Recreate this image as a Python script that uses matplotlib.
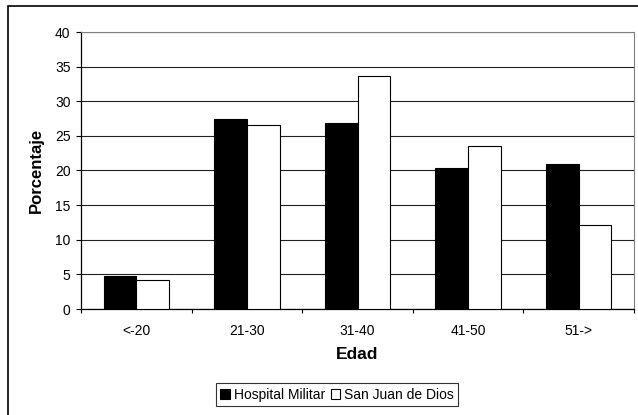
import numpy as np
import matplotlib
matplotlib.use("Agg")
import matplotlib.pyplot as plt
from matplotlib.patches import Rectangle

plt.rcParams['font.family'] = ['Liberation Sans', 'DejaVu Sans']

# datos
edades = ["<-20", "21-30", "31-40", "41-50", "51->"]
hospital_militar = [4.8, 27.5, 26.9, 20.3, 21.0]
san_juan_de_dios = [4.2, 26.6, 33.6, 23.5, 12.2]

fig = plt.figure(figsize=(6.38, 4.15), dpi=100)
ax = fig.add_axes([81/638, 1-309/415, 553/638, 277/415])

x = np.arange(len(edades))
w = 0.295
ax.bar(x - w/2, hospital_militar, w, color="black", edgecolor="black", lw=0.8,
       label="Hospital Militar", zorder=3)
ax.bar(x + w/2, san_juan_de_dios, w, color="white", edgecolor="black", lw=0.8,
       label="San Juan de Dios", zorder=3)

ax.set_xlim(-0.5, len(edades) - 0.5)
ax.set_ylim(0, 40)
ax.set_yticks(np.arange(0, 41, 5))
ax.yaxis.grid(True, color="#222222", lw=0.8, zorder=0)
ax.tick_params(axis="y", length=3.6, width=0.8, labelsize=10, pad=4)

ax.set_xticks(x, edades)
ax.set_xticks(np.arange(-0.5, len(edades)), minor=True)
ax.tick_params(axis="x", which="major", length=0, labelsize=10, pad=11)
ax.tick_params(axis="x", which="minor", length=3.2, width=0.8)

for s in ["top", "right"]:
    ax.spines[s].set_color("#808080")
for s in ["left", "bottom"]:
    ax.spines[s].set_color("black")
    ax.spines[s].set_linewidth(0.9)

ax.set_ylabel("Porcentaje", fontsize=12, fontweight="bold")
ax.yaxis.set_label_coords(-0.067, 0.5)
ax.set_xlabel("Edad", fontsize=12.5, fontweight="bold")
ax.xaxis.set_label_coords(0.5, -0.138)

leg = fig.legend(loc="center", bbox_to_anchor=(337/638, 1-394.5/415), ncol=2,
                 fontsize=10, frameon=True, fancybox=False, edgecolor="black",
                 handlelength=0.7, handleheight=0.7, handletextpad=0.3,
                 columnspacing=0.4, borderpad=0.3, borderaxespad=0)
leg.get_frame().set_linewidth(0.8)

# marco exterior
fig.add_artist(Rectangle((8/638, -0.1), 1.2, 1 - 6/415 + 0.1,
                         transform=fig.transFigure, fill=False, lw=1.2, ec="black"))

fig.savefig("out.png", dpi=100)
